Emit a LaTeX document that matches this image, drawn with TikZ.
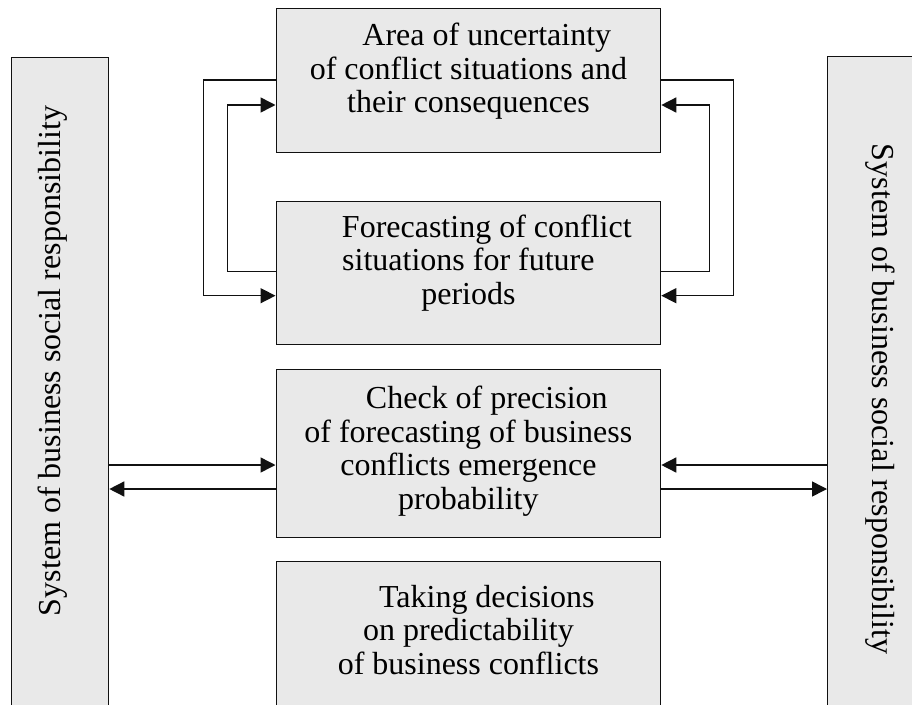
\documentclass[tikz,border=0pt]{standalone}
\usepackage{fontspec}
\setmainfont{Liberation Serif}
\usepackage{xcolor}
\usepackage{tikz}
\usetikzlibrary{arrows.meta,positioning,calc}
\definecolor{grisclaro}{HTML}{E9E9E9}
\definecolor{negro}{HTML}{111111}
\newcommand{\sangria}{\hspace*{1.15em}}
\tikzset{
  caja/.style={draw=negro,fill=grisclaro,line width=1.3pt,anchor=north west,inner sep=0pt},
  texto/.style={align=center,font=\fontsize{32}{33.5}\selectfont,inner sep=0pt,anchor=north},
  textolado/.style={font=\fontsize{32}{34}\selectfont,inner sep=0pt},
  flecha/.style={-{Triangle[length=15pt,width=15pt]},line width=1.5pt,negro},
}

\begin{document}
\begin{tikzpicture}[x=1pt,y=-1pt]
  \useasboundingbox (0,0) rectangle (912,704);
  \node[caja,minimum width=97pt,minimum height=680pt] (sisizq) at (11,57) {};
  \node[caja,minimum width=97pt,minimum height=680pt] (sisder) at (827,56) {};
  \node[caja,minimum width=384.5pt,minimum height=144pt] (area) at (275.5,8) {};
  \node[caja,minimum width=384.5pt,minimum height=143.3pt] (prono) at (275.5,200.7) {};
  \node[caja,minimum width=384.5pt,minimum height=168pt] (check) at (275.5,369) {};
  \node[caja,minimum width=384.5pt,minimum height=170pt] (decis) at (275.5,560.7) {};
  % textos
  \node[texto] (areatxt) at ([yshift=-15pt]area.north) {\sangria Area of uncertainty\\of conflict situations and\\their consequences};
  \node[texto] (pronotxt) at ([yshift=-14pt]prono.north) {\sangria Forecasting of conflict\\situations for future\\periods};
  \node[texto] (checktxt) at ([yshift=-17pt]check.north) {\sangria Check of precision\\of forecasting of business\\conflicts emergence\\probability};
  \node[texto] (decistxt) at ([yshift=-24pt]decis.north) {\sangria Taking decisions\\on predictability\\of business conflicts};
  \node[textolado,rotate=90] (sisizqtxt) at (52.5,361) {System of business social responsibility};
  \node[textolado,rotate=-90] (sisdertxt) at (880.5,399) {System of business social responsibility};
  % lazos
  \draw[flecha] ([yshift=-72pt]area.north west) -- ++(-72,0) |- ([yshift=-95pt]prono.north west);
  \draw[flecha] ([yshift=-71pt]prono.north west) -- ++(-48,0) |- ([yshift=-97pt]area.north west);
  \draw[flecha] ([yshift=-72pt]area.north east) -- ++(72,0) |- ([yshift=-95pt]prono.north east);
  \draw[flecha] ([yshift=-71pt]prono.north east) -- ++(48,0) |- ([yshift=-97pt]area.north east);
  % intercambio con los sistemas
  \coordinate (c1) at ([yshift=-96pt]check.north west);
  \coordinate (c2) at ([yshift=-120pt]check.north west);
  \coordinate (c3) at ([yshift=-96pt]check.north east);
  \coordinate (c4) at ([yshift=-120pt]check.north east);
  \draw[flecha] (sisizq.east |- c1) -- (c1);
  \draw[flecha] (c2) -- (sisizq.east |- c2);
  \draw[flecha] (sisder.west |- c3) -- (c3);
  \draw[flecha] (c4) -- (sisder.west |- c4);
\end{tikzpicture}
\end{document}
